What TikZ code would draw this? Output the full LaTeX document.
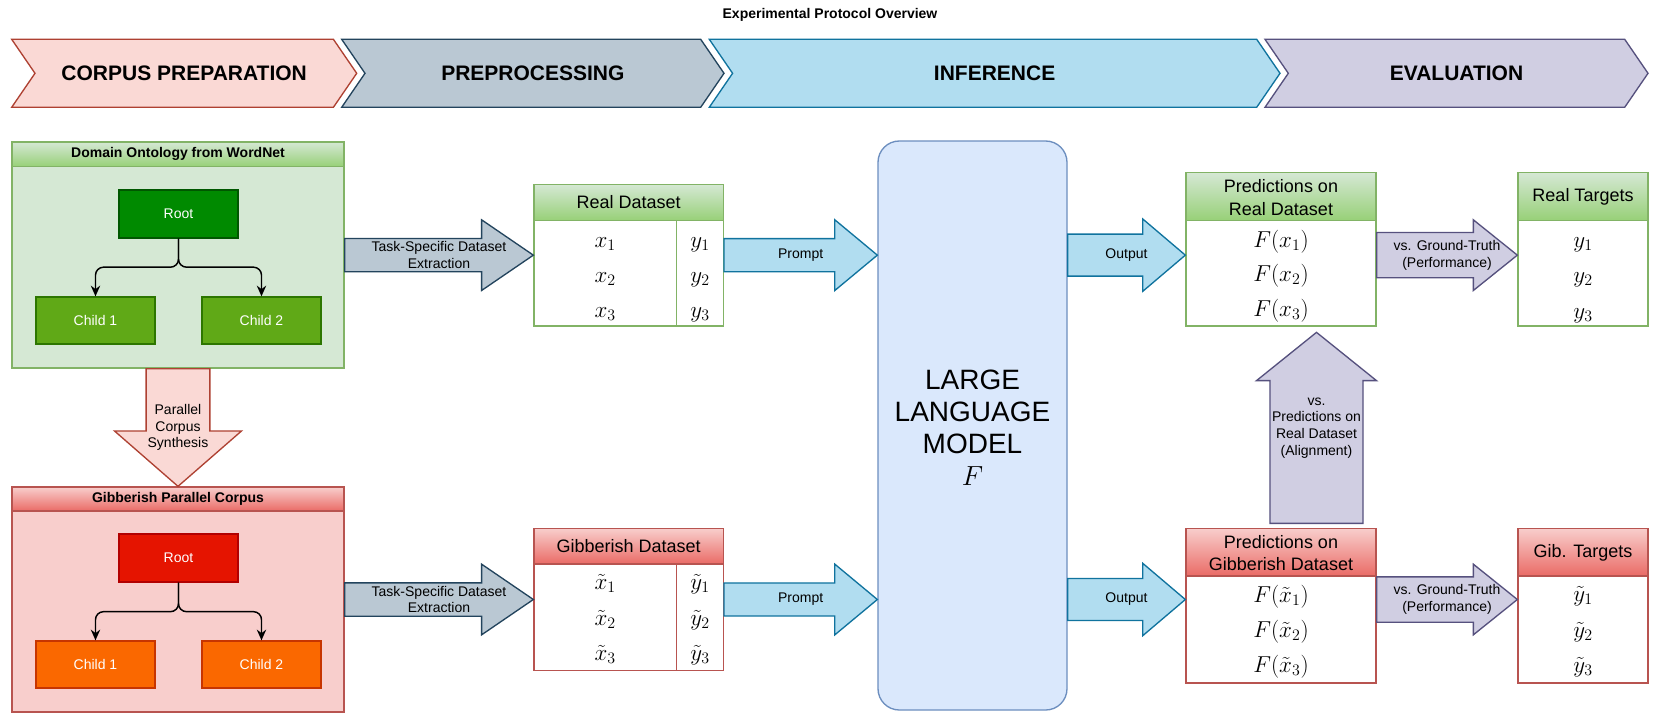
\documentclass[tikz,border=0pt]{standalone}
\usepackage{fontspec}
\setmainfont{Liberation Sans}
\usetikzlibrary{calc,fit,arrows.meta}

\definecolor{cAf}{HTML}{FAD9D5}\definecolor{cAd}{HTML}{AE4132}
\definecolor{cBf}{HTML}{BAC8D3}\definecolor{cBd}{HTML}{23445D}
\definecolor{cCf}{HTML}{B1DDF0}\definecolor{cCd}{HTML}{10739E}
\definecolor{cDf}{HTML}{D0CEE2}\definecolor{cDd}{HTML}{56517E}
\definecolor{grnF}{HTML}{D5E8D4}\definecolor{grnD}{HTML}{82B366}\definecolor{grnH}{HTML}{97D077}
\definecolor{redF}{HTML}{F8CECC}\definecolor{redD}{HTML}{B85450}\definecolor{redH}{HTML}{EA6B66}
\definecolor{gRootF}{HTML}{008A00}\definecolor{gRootD}{HTML}{005700}
\definecolor{gChF}{HTML}{60A917}\definecolor{gChD}{HTML}{2D7600}
\definecolor{rRootF}{HTML}{E51400}\definecolor{rRootD}{HTML}{B20000}
\definecolor{rChF}{HTML}{FA6800}\definecolor{rChD}{HTML}{C73500}
\definecolor{llmF}{HTML}{DAE8FC}\definecolor{llmD}{HTML}{6C8EBF}

% chevron: name, x0, x1, fill, draw, text
\newcommand\chev[6]{%
  \draw[fill=#4, draw=#5, line width=1pt] (#2,39.3) -- ({#3-23.3},39.3) -- (#3,73.3) -- ({#3-23.3},107.3) -- (#2,107.3) -- ({#2+23.3},73.3) -- cycle;
  \node[chevtxt] (#1) at ({(#2+#3)/2},73.3) {#6};
}
% block arrow: style, start, end, half body, half head, head length
\newcommand\blockarr[6]{%
  \coordinate (bah) at ($(#3)!#6!(#2)$);
  \draw[#1] ($(#2)!#4!90:(#3)$) -- ($(bah)!#4!-90:(#2)$) -- ($(bah)!#5!-90:(#2)$) -- (#3) -- ($(bah)!#5!90:(#2)$) -- ($(bah)!#4!90:(#2)$) -- ($(#2)!#4!-90:(#3)$) -- cycle;
}
% table: name, x0, y0, x1, header bottom, y1, top colour, bottom colour, stroke
\newcommand\tbl[9]{%
  \node[box, draw=#9, fill=white, fit={(#2,#3)(#4,#6)}] (#1) {};
  \shade[top color=#7, bottom color=#8] (#2,#3) rectangle (#4,#5);
  \draw[#9, line width=1pt] (#2,#3) rectangle (#4,#6) (#2,#5) -- (#4,#5);
}

\begin{document}
\begin{tikzpicture}[x=0.75pt,y=-0.75pt,
  box/.style={inner sep=0pt, line width=1pt},
  lbl/.style={font=\fontsize{10.5}{12.5}\selectfont, align=center, inner sep=0pt},
  chevtxt/.style={font=\fontsize{15.75}{18}\selectfont\bfseries},
  hdr/.style={font=\fontsize{13.5}{16.7}\selectfont, align=center, inner sep=0pt},
  cell/.style={font=\fontsize{18}{20}\selectfont, anchor=base, inner sep=0pt},
  conthdr/.style={font=\fontsize{10.5}{12}\selectfont\bfseries},
  treebox/.style={inner sep=0pt, line width=1pt, text=white, font=\fontsize{10.5}{12}\selectfont},
  treeline/.style={line width=1.1pt, rounded corners=6pt, -{Stealth[length=8pt,width=7pt]}},
  arrA/.style={fill=cAf, draw=cAd, line width=1pt, line join=miter},
  arrB/.style={fill=cBf, draw=cBd, line width=1pt, line join=miter},
  arrC/.style={fill=cCf, draw=cCd, line width=1pt, line join=miter},
  arrD/.style={fill=cDf, draw=cDd, line width=1pt, line join=miter}]
\useasboundingbox[fill=white] (0,0) rectangle (1661,717);

\node[font=\fontsize{10.5}{12}\selectfont\bfseries] (title) at (830,15) {Experimental Protocol Overview};

\chev{ch1}{11.7}{356.7}{cAf}{cAd}{CORPUS PREPARATION}
\chev{ch2}{341.7}{724}{cBf}{cBd}{PREPROCESSING}
\chev{ch3}{709.3}{1280}{cCf}{cCd}{INFERENCE}
\chev{ch4}{1265}{1648}{cDf}{cDd}{EVALUATION}

% green container
\node[box, draw=grnD, fill=grnF, fit={(12,142)(344,368)}] (gc) {};
\shade[top color=grnF, bottom color=grnH] (12,142) rectangle (344,166.7);
\draw[grnD, line width=1pt] (12,142) rectangle (344,166.7);
\node[conthdr] (gch) at (178,154.3) {Domain Ontology from WordNet};
\node[treebox, draw=gRootD, fill=gRootF, fit={(119,190)(238,238)}] (gr) {};
\node[treebox] at (gr.center) {Root};
\node[treebox, draw=gChD, fill=gChF, fit={(36,297)(155,344)}] (gc1) {};
\node[treebox] at (gc1.center) {Child 1};
\node[treebox, draw=gChD, fill=gChF, fit={(202,297)(321,344)}] (gc2) {};
\node[treebox] at (gc2.center) {Child 2};
\draw[treeline] (gr.south) -- ++(0,28.5) -| (gc1.north);
\draw[treeline] (gr.south) -- ++(0,28.5) -| (gc2.north);

% red container
\node[box, draw=redD, fill=redF, fit={(12,487)(344,712)}] (rc) {};
\shade[top color=redF, bottom color=redH] (12,487) rectangle (344,511);
\draw[redD, line width=1pt] (12,487) rectangle (344,511);
\node[conthdr] (rch) at (178,499) {Gibberish Parallel Corpus};
\node[treebox, draw=rRootD, fill=rRootF, fit={(119,534)(238,582)}] (rr) {};
\node[treebox] at (rr.center) {Root};
\node[treebox, draw=rChD, fill=rChF, fit={(36,641)(155,688)}] (rc1) {};
\node[treebox] at (rc1.center) {Child 1};
\node[treebox, draw=rChD, fill=rChF, fit={(202,641)(321,688)}] (rc2) {};
\node[treebox] at (rc2.center) {Child 2};
\draw[treeline] (rr.south) -- ++(0,29) -| (rc1.north);
\draw[treeline] (rr.south) -- ++(0,29) -| (rc2.north);

% tables
\tbl{rd}{534}{184.3}{723.3}{220.7}{326}{grnF}{grnH}{grnD}
\draw[grnD, line width=1pt] (676.7,220.7) -- (676.7,326);
\node[hdr] (rdh) at (628.6,202.5) {Real Dataset};
\node[cell] (rdx1) at (605.3,247.5) {$x_1$};
\node[cell] (rdx2) at (605.3,282.5) {$x_2$};
\node[cell] (rdx3) at (605.3,317.5) {$x_3$};
\node[cell] (rdy1) at (700,247.5) {$y_1$};
\node[cell] (rdy2) at (700,282.5) {$y_2$};
\node[cell] (rdy3) at (700,317.5) {$y_3$};

\tbl{gdt}{534}{528.3}{723.3}{564}{670.7}{redF}{redH}{redD}
\draw[redD, line width=1pt] (676.7,564) -- (676.7,670.7);
\node[hdr] (gdh) at (628.6,546.5) {Gibberish Dataset};
\node[cell] (gdx1) at (605.3,589.5) {$\tilde{x}_1$};
\node[cell] (gdx2) at (605.3,625) {$\tilde{x}_2$};
\node[cell] (gdx3) at (605.3,660.5) {$\tilde{x}_3$};
\node[cell] (gdy1) at (700,589.5) {$\tilde{y}_1$};
\node[cell] (gdy2) at (700,625) {$\tilde{y}_2$};
\node[cell] (gdy3) at (700,660.5) {$\tilde{y}_3$};

\tbl{pr}{1186}{172.7}{1376}{220.7}{326}{grnF}{grnH}{grnD}
\node[hdr] (prh) at (1281,197.5) {Predictions on\\Real Dataset};
\node[cell] (prf1) at (1281,247) {$F(x_1)$};
\node[cell] (prf2) at (1281,281.5) {$F(x_2)$};
\node[cell] (prf3) at (1281,316) {$F(x_3)$};

\tbl{pg}{1186}{528.3}{1376}{576}{683}{redF}{redH}{redD}
\node[hdr] (pgh) at (1281,553) {Predictions on\\Gibberish Dataset};
\node[cell] (pgf1) at (1281,602) {$F(\tilde{x}_1)$};
\node[cell] (pgf2) at (1281,637) {$F(\tilde{x}_2)$};
\node[cell] (pgf3) at (1281,672) {$F(\tilde{x}_3)$};

\tbl{rt}{1518}{172.7}{1648}{220.7}{326}{grnF}{grnH}{grnD}
\node[hdr] (rth) at (1583,197) {Real Targets};
\node[cell] (rty1) at (1583,247) {$y_1$};
\node[cell] (rty2) at (1583,282.5) {$y_2$};
\node[cell] (rty3) at (1583,318) {$y_3$};

\tbl{gt}{1518}{528.3}{1648}{576}{683}{redF}{redH}{redD}
\node[hdr] (gth) at (1583,552.5) {Gib. Targets};
\node[cell] (gty1) at (1583,601.5) {$\tilde{y}_1$};
\node[cell] (gty2) at (1583,637) {$\tilde{y}_2$};
\node[cell] (gty3) at (1583,672.5) {$\tilde{y}_3$};

% LLM
\node[box, draw=llmD, fill=llmF, rounded corners=16pt, fit={(878,141)(1067,710)}] (llm) {};
\node[font=\fontsize{21}{24}\selectfont, align=center] (llmt) at ($(llm.center)+(0,2)$) {LARGE\\LANGUAGE\\MODEL\\$F$};

% connector coordinates
\coordinate (t1s) at (gc.east |- rd.west); \coordinate (t1e) at (rd.west);
\coordinate (t2s) at (rc.east |- gdt.west); \coordinate (t2e) at (gdt.west);
\coordinate (p1s) at (rd.east); \coordinate (p1e) at (llm.west |- rd.east);
\coordinate (p2s) at (gdt.east); \coordinate (p2e) at (llm.west |- gdt.east);
\coordinate (o1s) at (llm.east |- rd.east); \coordinate (o1e) at (pr.west |- rd.east);
\coordinate (o2s) at (llm.east |- gdt.east); \coordinate (o2e) at (pg.west |- gdt.east);
\coordinate (v1s) at (pr.east |- rd.east); \coordinate (v1e) at (rt.west |- rd.east);
\coordinate (v2s) at (pg.east |- gdt.east); \coordinate (v2e) at (gt.west |- gdt.east);
\coordinate (ds) at (gc.south); \coordinate (de) at (rc.north);
\coordinate (us) at ($(pg.north)+(35.5,-4.3)$); \coordinate (ue) at ($(pr.south)+(35.5,5.7)$);

\blockarr{arrA}{ds}{de}{23.9pt}{47.6pt}{41.5pt}
\node[lbl] (dl) at ($(ds)!0.5!(de)$) {Parallel\\Corpus\\Synthesis};

\blockarr{arrB}{t1s}{t1e}{12.5pt}{26.5pt}{38.8pt}
\node[lbl] (tl1) at ($(t1s)!0.5!(t1e)$) {Task-Specific Dataset\\Extraction};
\blockarr{arrB}{t2s}{t2e}{12.5pt}{26.5pt}{38.8pt}
\node[lbl] (tl2) at ($(t2s)!0.5!(t2e)$) {Task-Specific Dataset\\Extraction};

\blockarr{arrC}{p1s}{p1e}{12.4pt}{26.6pt}{32pt}
\node[lbl] (pl1) at ($(p1s)!0.5!(p1e)$) {Prompt};
\blockarr{arrC}{p2s}{p2e}{12.4pt}{26.6pt}{32pt}
\node[lbl] (pl2) at ($(p2s)!0.5!(p2e)$) {Prompt};

\blockarr{arrC}{o1s}{o1e}{15.75pt}{27.1pt}{31.9pt}
\node[lbl] (ol1) at ($(o1s)!0.5!(o1e)$) {Output};
\blockarr{arrC}{o2s}{o2e}{15.75pt}{27.1pt}{31.9pt}
\node[lbl] (ol2) at ($(o2s)!0.5!(o2e)$) {Output};

\blockarr{arrD}{v1s}{v1e}{17pt}{26.5pt}{33pt}
\node[lbl] (vl1) at ($(v1s)!0.5!(v1e)$) {vs. Ground-Truth\\(Performance)};
\blockarr{arrD}{v2s}{v2e}{17pt}{26.5pt}{33pt}
\node[lbl] (vl2) at ($(v2s)!0.5!(v2e)$) {vs. Ground-Truth\\(Performance)};

\blockarr{arrD}{us}{ue}{34.9pt}{45pt}{36.2pt}
\node[lbl] (ul) at ($(us)!0.5!(ue)$) {vs.\\Predictions on\\Real Dataset\\(Alignment)};
\end{tikzpicture}
\end{document}
